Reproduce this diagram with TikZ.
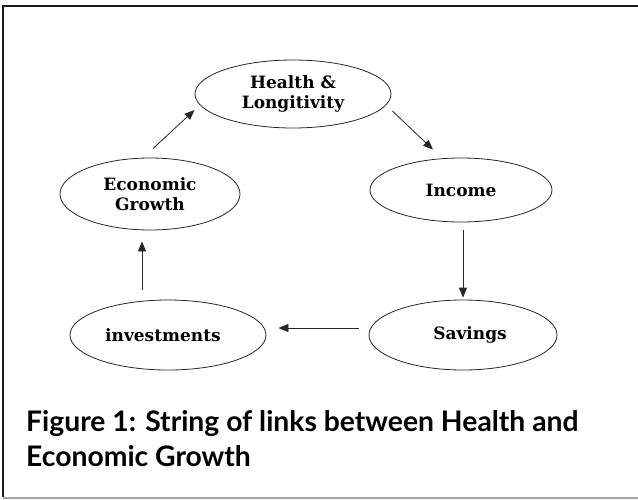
\documentclass[tikz,border=0pt]{standalone}
\usepackage{fontspec}
\setmainfont{DejaVu Serif}
\newfontfamily\capfont{Lato}
\usetikzlibrary{shapes.geometric,arrows.meta}
\begin{document}
\begin{tikzpicture}[x=1pt,y=-1pt,
  bub/.style={ellipse,draw=black!85,line width=0.8pt,inner sep=0pt,align=center,
    font=\fontsize{17}{20}\selectfont\bfseries,text=black},
  link/.style={draw=black!85,line width=0.8pt,-{Triangle[length=10pt,width=8pt]}}]
\useasboundingbox (0,0) rectangle (638,499);
% frame
\draw[line width=2pt,black!90] (3,497) -- (3,6) -- (638,6);
\draw[line width=1.5pt,black!35] (3,498) -- (638,498);
% nodes
\node[bub,minimum width=196pt,minimum height=68pt] (hl) at (293,94) {Health \&\\Longitivity};
\node[bub,minimum width=180pt,minimum height=72pt] (eg) at (150,194) {Economic\\Growth};
\node[bub,minimum width=182pt,minimum height=64pt] (in) at (461,190) {Income};
\node[bub,minimum width=188pt,minimum height=70pt] (sv) at (463,335) {\hspace*{14pt}Savings};
\node[bub,minimum width=196pt,minimum height=70pt] (iv) at (168,335) {investments\hspace*{10pt}};
% connectors
\draw[link] ([shift={(3,-9)}]eg.north) -- ([shift={(0,16)}]hl.west);
\draw[link] ([shift={(1,17)}]hl.east) -- ([shift={(-28,-8)}]in.north);
\draw[link] ([shift={(2,8)}]in.south) -- ([shift={(0,-2)}]sv.north);
\draw[link] ([shift={(-10,-7)}]sv.west) -- ([shift={(12,-7)}]iv.east);
\draw[link] ([shift={(-26,-10)}]iv.north) -- ([shift={(-8,11)}]eg.south);
% caption
\node[anchor=base west,inner sep=0pt,align=left,font=\capfont\fontsize{28.3}{35}\selectfont\bfseries] (cap) at (26,466)
  {Figure 1: String of links between Health and\\Economic Growth};
\end{tikzpicture}
\end{document}
